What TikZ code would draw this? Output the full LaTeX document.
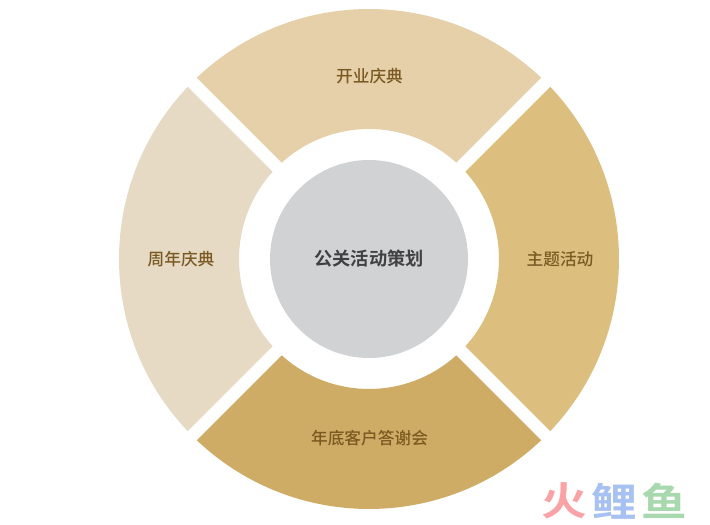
\documentclass[tikz,border=0pt]{standalone}
\usepackage{fontspec}
\usepackage{xcolor}
\newfontfamily\cjk{Noto Sans CJK SC Medium}
\newfontfamily\cjkb{Noto Sans CJK SC Bold}
\definecolor{openfill}{HTML}{E6D0A9}
\definecolor{themefill}{HTML}{DCBF7F}
\definecolor{clientfill}{HTML}{CFAC66}
\definecolor{yearfill}{HTML}{E6DAC5}
\definecolor{corefill}{HTML}{D1D2D4}
\definecolor{labeltext}{HTML}{7A5A22}
\definecolor{coretext}{HTML}{414042}
\definecolor{markred}{HTML}{F9A3A6}
\definecolor{markblue}{HTML}{A6C1F2}
\definecolor{markgreen}{HTML}{A8D8AE}

\begin{document}
\begin{tikzpicture}[
    x=1pt, y=1pt,
    sectorlabel/.style = {text=labeltext, font=\cjk\fontsize{16.7}{18}\selectfont},
    corelabel/.style = {text=coretext, font=\cjkb\fontsize{18.2}{20}\selectfont},
    marklabel/.style = {font=\cjkb\fontsize{39}{42}\selectfont, inner sep=0pt, xscale=1.17, transform shape}]
  \useasboundingbox (0,0) rectangle (710,525);
  \fill[white] (0,0) rectangle (710,525);
  \coordinate (centre) at (369,266);
  \begin{scope}[shift={(centre)}]
    \foreach \angle/\colour in {90/openfill, 0/themefill, -90/clientfill, 180/yearfill} {
      \fill[\colour] (\angle-45+1.47:250)
        arc[start angle=\angle-45+1.47, end angle=\angle+45-1.47, radius=250]
        -- (\angle+45-2.82:130)
        arc[start angle=\angle+45-2.82, end angle=\angle-45+2.82, radius=130]
        -- cycle;
    }
  \end{scope}
  \node[circle, fill=corefill, minimum size=198pt, inner sep=0pt, corelabel] (core) at (centre) {公关活动策划};
  \node[sectorlabel] (open) at (369.5,448.5) {开业庆典};
  \node[sectorlabel] (theme) at (560,266) {主题活动};
  \node[sectorlabel] (client) at (369.5,86.5) {年底客户答谢会};
  \node[sectorlabel] (year) at (181,266) {周年庆典};
  \node[marklabel, text=markred] (huo) at (564,24) {火};
  \node[marklabel, text=markblue] (li) at (614,24) {鲤};
  \node[marklabel, text=markgreen] (yu) at (664,24) {鱼};
\end{tikzpicture}
\end{document}
